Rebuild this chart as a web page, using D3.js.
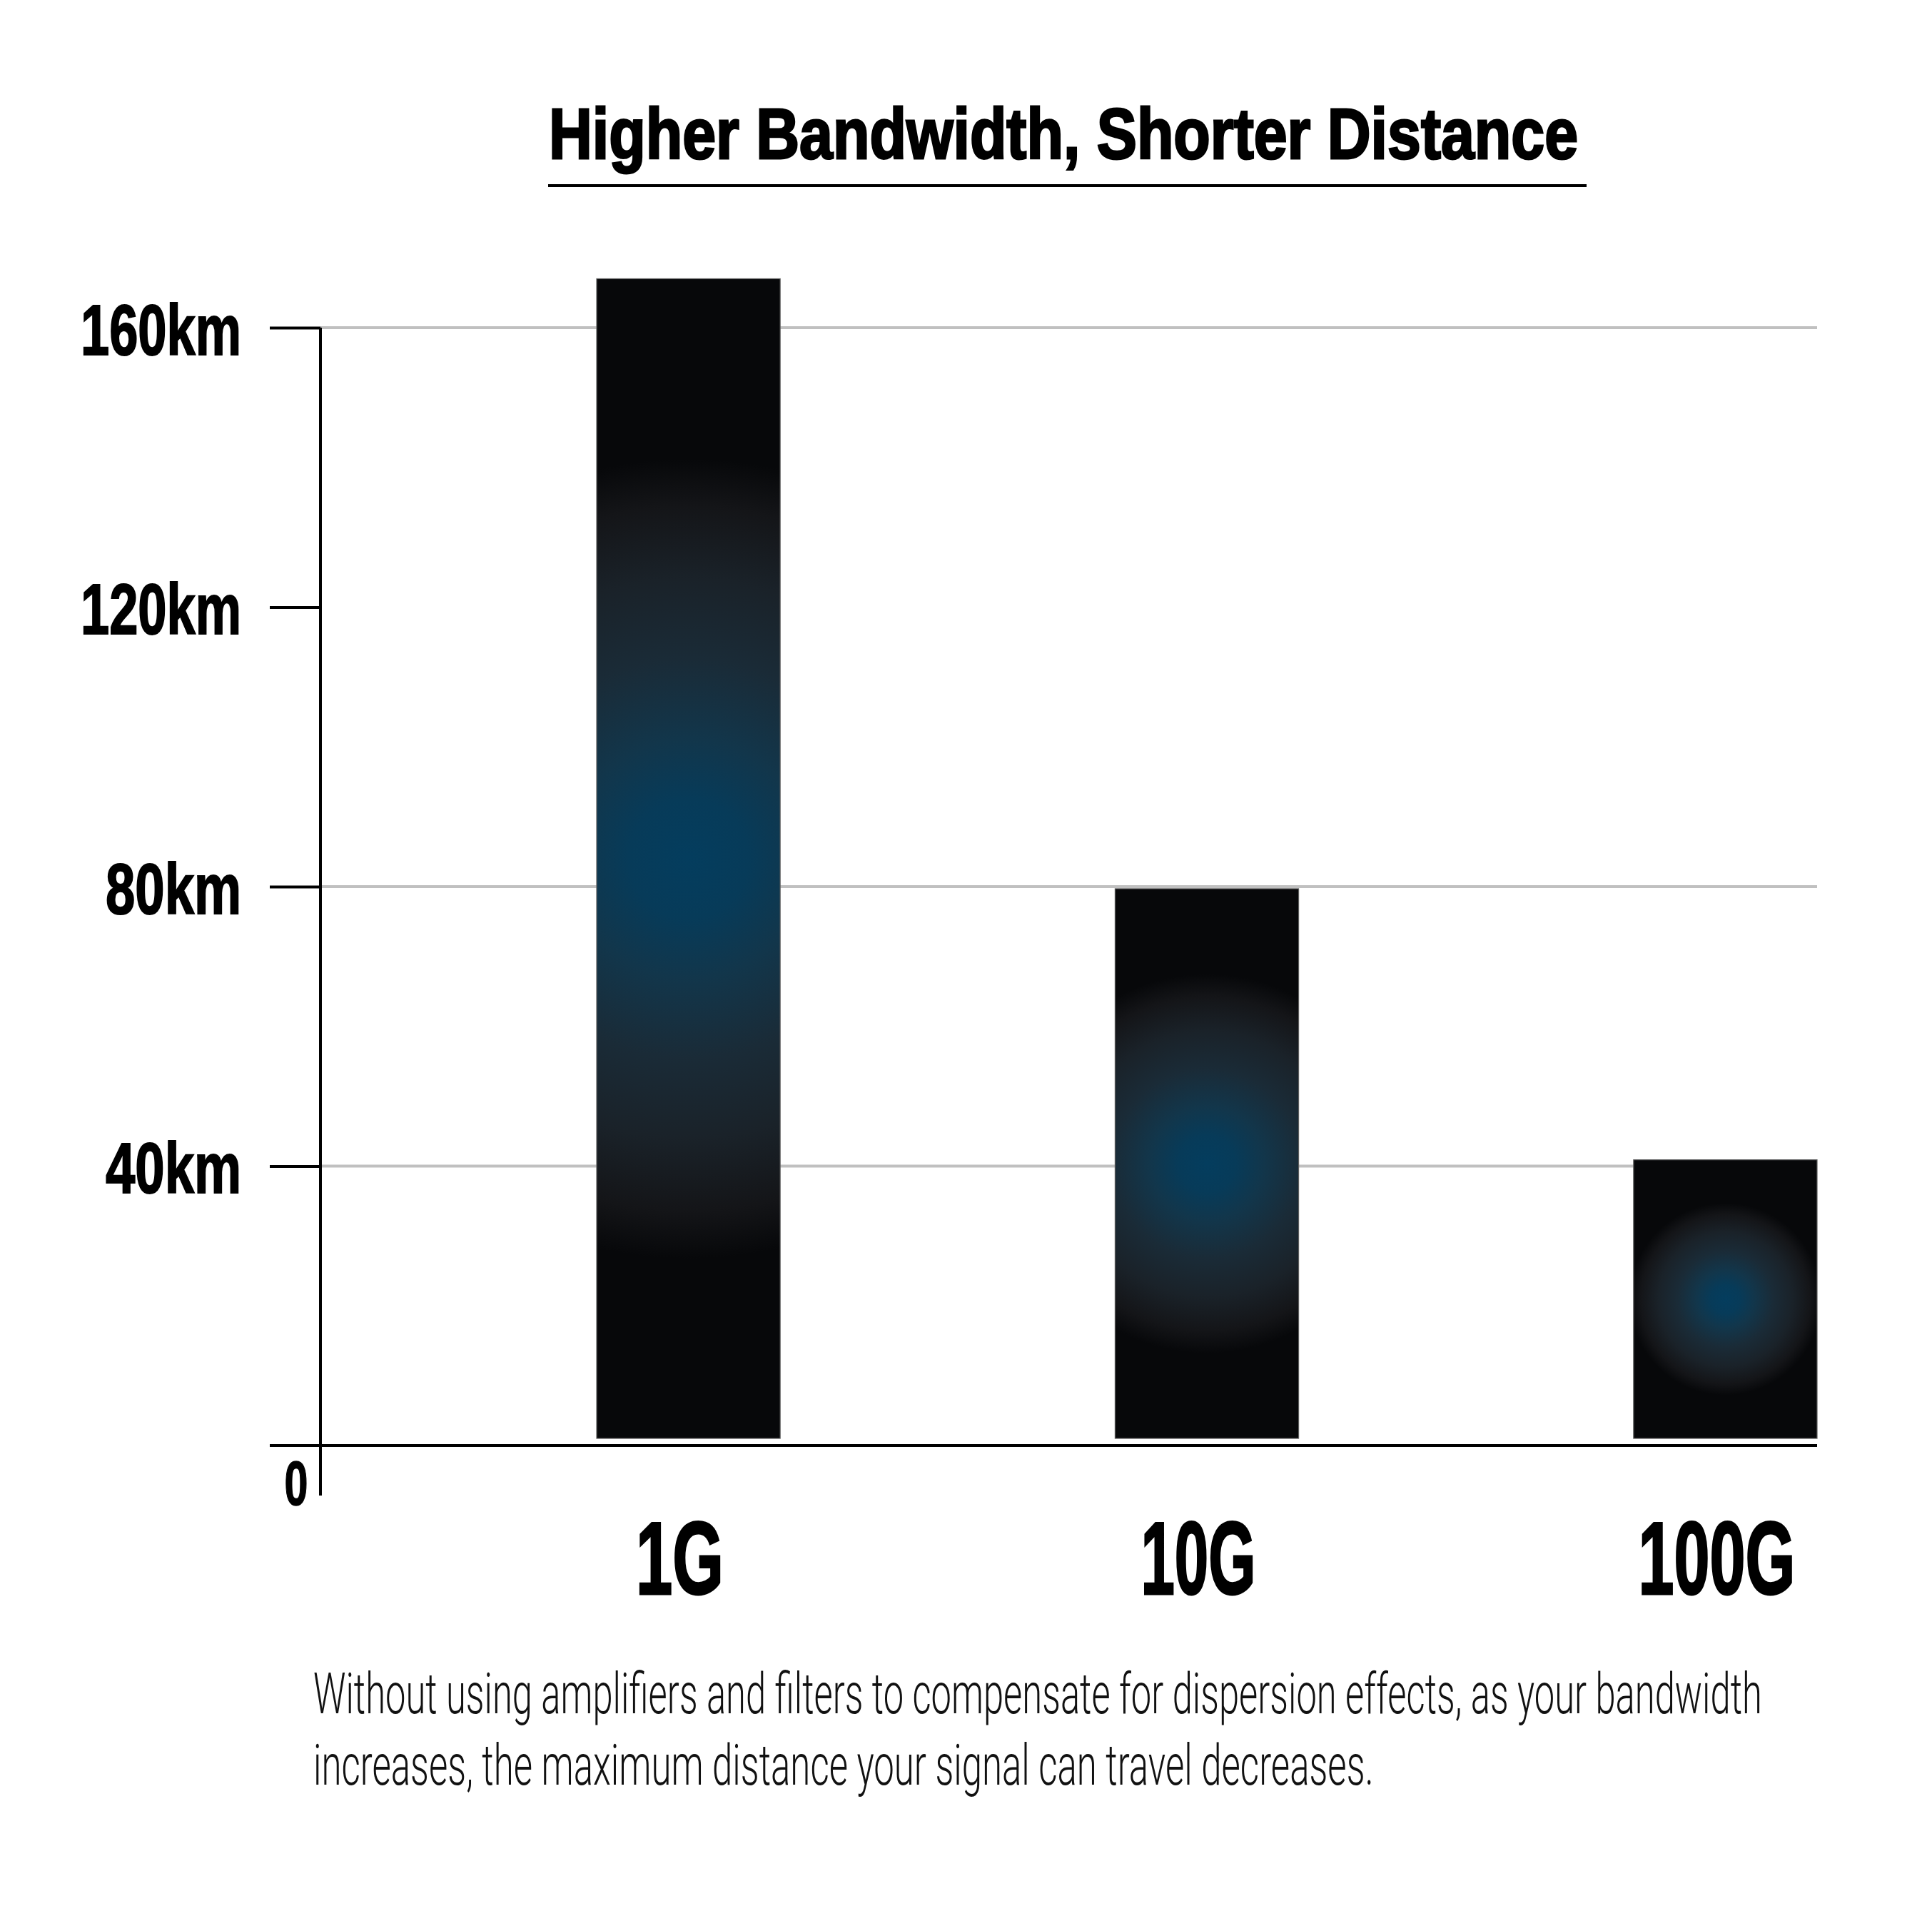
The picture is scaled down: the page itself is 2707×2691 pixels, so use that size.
<!DOCTYPE html>
<html>
<head>
<meta charset="utf-8">
<script src="https://cdn.jsdelivr.net/npm/d3@7"></script>
<style>
  body { margin: 0; background: #fff; }
</style>
</head>
<body>
<script>

// chart data
const categories = ["1G", "10G", "100G"];
const distances = [167, 79.7, 40.9];          // km
const yTicks = [40, 80, 120, 160];
const yTickLabels = ["40km", "80km", "120km", "160km"];
const gridValues = [40, 80, 160];             // the 120km line has no grid rule
const titleText = "Higher Bandwidth, Shorter Distance";
const footnoteLines = [
    "Without using amplifiers and filters to compensate for dispersion effects, as your bandwidth",
    "increases, the maximum distance your signal can travel decreases."
];

function main() {

    const width = 2707;
    const height = 2691;
    const axisX = 449;
    const plotRight = 2546;
    const barGap = 10;
    const heavyFont = "'Liberation Sans', Arial, sans-serif";
    const lightFont = "Roboto, 'Liberation Sans', sans-serif";

    const svg = d3.select("body")
        .append("svg")
        .attr("width", width)
        .attr("height", height)
        .style("background", "#fff");

    const y = d3.scaleLinear()
        .domain([0, 160])
        .range([2025, 459]);

    const x = d3.scaleBand()
        .domain(categories)
        .range([836, plotRight])
        .paddingInner(0.646)
        .paddingOuter(0);

    // title + underline
    svg.append("text")
        .attr("x", 769)
        .attr("y", 222)
        .attr("font-family", heavyFont)
        .attr("font-weight", 700)
        .attr("font-size", 100)
        .attr("textLength", 1442)
        .attr("lengthAdjust", "spacingAndGlyphs")
        .attr("fill", "#000")
        .attr("stroke", "#000")
        .attr("stroke-width", 3)
        .text(titleText);

    svg.append("line")
        .attr("x1", 768).attr("x2", 2223)
        .attr("y1", 260).attr("y2", 260)
        .attr("stroke", "#000")
        .attr("stroke-width", 4);

    // grid
    svg.append("g")
        .selectAll("line")
        .data(gridValues)
        .join("line")
        .attr("x1", axisX)
        .attr("x2", plotRight)
        .attr("y1", d => y(d))
        .attr("y2", d => y(d))
        .attr("stroke", "#c0c0c0")
        .attr("stroke-width", 4);

    // bar glow gradients, one per bar, sized to the bar
    const glowStops = [
        [0, "#043d5e"], [0.15, "#073b59"], [0.3, "#12364b"], [0.5, "#1a2b37"],
        [0.7, "#1a2229"], [0.88, "#141518"], [1, "#07080a"]
    ];
    const defs = svg.append("defs");
    categories.forEach((c, i) => {
        const top = y(distances[i]);
        const bottom = y(0) - barGap;
        const grad = defs.append("radialGradient")
            .attr("id", "glow" + i)
            .attr("gradientUnits", "userSpaceOnUse")
            .attr("cx", x(c) + x.bandwidth() / 2)
            .attr("cy", (top + bottom) / 2)
            .attr("r", 0.345 * (bottom - top));
        grad.selectAll("stop")
            .data(glowStops)
            .join("stop")
            .attr("offset", d => d[0])
            .attr("stop-color", d => d[1]);
    });

    svg.append("g")
        .selectAll("rect")
        .data(categories)
        .join("rect")
        .attr("x", d => x(d))
        .attr("width", x.bandwidth())
        .attr("y", (d, i) => y(distances[i]))
        .attr("height", (d, i) => y(0) - barGap - y(distances[i]))
        .attr("fill", (d, i) => `url(#glow${i})`)
        .attr("stroke", "#5f5f5f")
        .attr("stroke-width", 1.2);

    // y axis
    const yAxis = d3.axisLeft(y)
        .tickValues(yTicks)
        .tickSize(71)
        .tickPadding(40)
        .tickFormat((d, i) => yTickLabels[i]);

    const gy = svg.append("g")
        .attr("transform", `translate(${axisX},0)`)
        .call(yAxis);
    gy.select(".domain").remove();
    gy.selectAll(".tick line")
        .attr("stroke", "#000")
        .attr("stroke-width", 4);
    gy.selectAll(".tick text")
        .attr("font-family", heavyFont)
        .attr("font-weight", 700)
        .attr("font-size", 100)
        .attr("dy", "0.37em")
        .attr("textLength", d => d >= 100 ? 225 : 190)
        .attr("lengthAdjust", "spacingAndGlyphs")
        .attr("fill", "#000")
        .attr("stroke", "#000")
        .attr("stroke-width", 2);

    svg.append("line")
        .attr("x1", axisX).attr("x2", axisX)
        .attr("y1", y(160)).attr("y2", y(0) + 70)
        .attr("stroke", "#000")
        .attr("stroke-width", 4);

    svg.append("line")
        .attr("x1", 378).attr("x2", plotRight)
        .attr("y1", y(0)).attr("y2", y(0))
        .attr("stroke", "#000")
        .attr("stroke-width", 4);

    svg.append("text")
        .attr("x", 415)
        .attr("y", y(0) + 83)
        .attr("text-anchor", "middle")
        .attr("font-family", heavyFont)
        .attr("font-weight", 700)
        .attr("font-size", 88)
        .attr("textLength", 33)
        .attr("lengthAdjust", "spacingAndGlyphs")
        .attr("stroke", "#000")
        .attr("stroke-width", 1.5)
        .text("0");

    // x axis labels
    const xLabelWidths = [123, 161, 220];
    const gx = svg.append("g")
        .attr("transform", "translate(-12,2233)")
        .call(d3.axisBottom(x).tickSize(0).tickPadding(0));
    gx.select(".domain").remove();
    gx.selectAll(".tick text")
        .attr("y", 0)
        .attr("dy", null)
        .attr("font-family", heavyFont)
        .attr("font-weight", 700)
        .attr("font-size", 145)
        .attr("textLength", (d, i) => xLabelWidths[i])
        .attr("lengthAdjust", "spacingAndGlyphs")
        .attr("fill", "#000")
        .attr("stroke", "#000")
        .attr("stroke-width", 3);

    // footnote, squeezed horizontally to the condensed width of the original
    const footWidths = [2030, 1486];
    svg.append("g")
        .selectAll("text")
        .data(footnoteLines)
        .join("text")
        .attr("x", 0)
        .attr("y", 0)
        .attr("font-family", lightFont)
        .attr("font-weight", 300)
        .attr("font-size", 80)
        .attr("fill", "#111")
        .text(d => d)
        .attr("transform", function (d, i) {
            const sx = footWidths[i] / this.getComputedTextLength();
            return `translate(439,${2400 + i * 100}) scale(${sx},1)`;
        });
}

main();
</script>
</body>
</html>
